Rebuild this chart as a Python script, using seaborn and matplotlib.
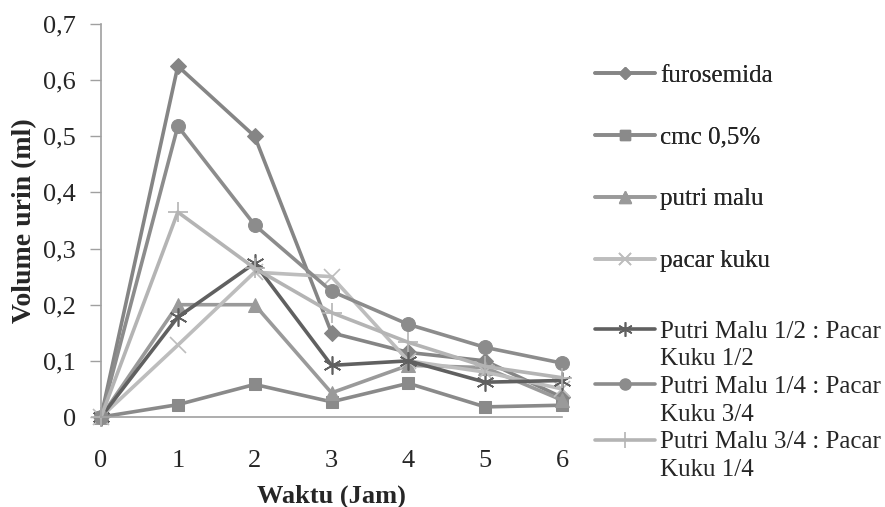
import matplotlib
matplotlib.use("Agg")
import matplotlib.pyplot as plt
from matplotlib.lines import Line2D
import seaborn as sns
import pandas as pd

sns.set_style("white")
plt.rcParams["font.family"] = ["Liberation Serif", "DejaVu Serif"]

hours = [0, 1, 2, 3, 4, 5, 6]
furosemida = [0, 0.625, 0.50, 0.15, 0.115, 0.10, 0.035]
cmc = [0, 0.022, 0.058, 0.027, 0.060, 0.018, 0.021]
putri_malu = [0, 0.20, 0.20, 0.043, 0.092, 0.088, 0.030]
pacar_kuku = [0, 0.128, 0.258, 0.250, 0.100, 0.080, 0.050]
pm_half = [0, 0.178, 0.274, 0.092, 0.100, 0.062, 0.065]
pm_quarter = [0, 0.518, 0.342, 0.224, 0.165, 0.124, 0.096]
pm_three_q = [0, 0.365, 0.265, 0.186, 0.133, 0.090, 0.070]

series_names = ["furosemida", "cmc 0,5%", "putri malu", "pacar kuku",
                "Putri Malu 1/2 : Pacar Kuku 1/2",
                "Putri Malu 1/4 : Pacar Kuku 3/4",
                "Putri Malu 3/4 : Pacar Kuku 1/4"]
series_values = [furosemida, cmc, putri_malu, pacar_kuku, pm_half, pm_quarter, pm_three_q]

ytick_values = [0, 0.1, 0.2, 0.3, 0.4, 0.5, 0.6, 0.7]
ytick_labels = ["0", "0,1", "0,2", "0,3", "0,4", "0,5", "0,6", "0,7"]

colors = ["#858585", "#8a8a8a", "#9a9a9a", "#bdbdbd", "#606060", "#8c8c8c", "#b4b4b4"]
markers = ["D", "s", "^", "x", "*", "o", "+"]
msizes = [8, 9, 10, 11, 13, 10, 14]

rows = []
for name, vals in zip(series_names, series_values):
    for h, v in zip(hours, vals):
        rows.append({"Waktu": h, "Volume": v, "Seri": name})
df = pd.DataFrame(rows)

fig = plt.figure(figsize=(8.85, 5.07), dpi=100)
ax = fig.add_axes([101 / 885, 1 - 417 / 507, (562 - 101) / 885, (417 - 24) / 507])

handles = []
for name, c, m, ms in zip(series_names, colors, markers, msizes):
    sub = df[df["Seri"] == name]
    mkw = dict(marker=m, markersize=ms, markeredgecolor=c, markerfacecolor=c)
    if m in ("x", "+", "*"):
        mkw["markeredgewidth"] = 1.2
        if m == "*":
            mkw["marker"] = (6, 2, 0)
    sns.lineplot(data=sub, x="Waktu", y="Volume", ax=ax, color=c, linewidth=2.6,
                 legend=False, clip_on=False, **mkw)
    handles.append(Line2D([], [], color=c, linewidth=2.6,
                          **{k: (ms * 0.8 if k == "markersize" else v) for k, v in mkw.items()}))

ax.set_xlim(0, 6)
ax.set_ylim(0, 0.7)
ax.set_xticks(hours)
ax.set_xticklabels([str(h) for h in hours])
ax.set_yticks(ytick_values)
ax.set_yticklabels(ytick_labels)
ax.tick_params(axis="y", which="both", left=True, length=8, width=1, color="#a0a0a0",
               labelsize=19, pad=10)
ax.tick_params(axis="x", bottom=False, labelsize=19, pad=20)
for s in ["top", "right"]:
    ax.spines[s].set_visible(False)
for s in ["left", "bottom"]:
    ax.spines[s].set_color("#a0a0a0")
    ax.spines[s].set_linewidth(1.2)

ax.set_xlabel("Waktu (Jam)", fontsize=19, fontweight="bold", labelpad=9)
ax.set_ylabel("Volume urin (ml)", fontsize=20, fontweight="bold", labelpad=4)

# legend part 1: single-line entries
leg1 = fig.legend(handles[:4], series_names[:4], loc="upper left",
                  bbox_to_anchor=(585 / 885, 1 - 54 / 507), frameon=False,
                  fontsize=18, handlelength=2.4, handletextpad=0.2,
                  labelspacing=1.58, borderaxespad=0)
# legend part 2: two-line entries, split into rows
blank = Line2D([], [], color="none")
h2, l2 = [], []
for h, name in zip(handles[4:], series_names[4:]):
    first, second = name.split(" Kuku")
    h2 += [h, blank]
    l2 += [first, "Kuku" + second]
leg2 = fig.legend(h2, l2, loc="upper left",
                  bbox_to_anchor=(585 / 885, 1 - 310 / 507), frameon=False,
                  fontsize=18, handlelength=2.4, handletextpad=0.2,
                  labelspacing=0.21, borderaxespad=0)
fig.add_artist(leg1)

fig.savefig("out.png", dpi=100)
